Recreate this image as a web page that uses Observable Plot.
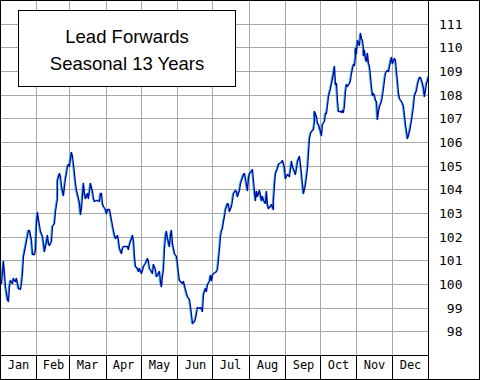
<!DOCTYPE html>
<html>
<head>
<meta charset="utf-8">
<script src="https://cdn.jsdelivr.net/npm/d3@7"></script>
<script src="https://cdn.jsdelivr.net/npm/@observablehq/plot@0.6"></script>
<style>
  html, body { margin: 0; padding: 0; background: #fff; }
  #wrap { position: relative; width: 480px; height: 380px; overflow: hidden; }
  #wrap svg { display: block; }
  #border { position: absolute; left: 0; top: 0; width: 480px; height: 380px; box-sizing: border-box; border: 1px solid #000; pointer-events: none; }
  #title { position: absolute; left: 18px; top: 10px; width: 218px; height: 77px; box-sizing: border-box;
           border: 1px solid #000; background: #fff; text-align: center;
           font-family: "Liberation Sans", Arial, sans-serif; font-size: 18.5px; line-height: 27px; padding-top: 12px; color: #000; }
</style>
</head>
<body>
<div id="wrap">
  <div id="chart"></div>
  <div id="title">Lead Forwards<br>Seasonal 13 Years</div>
  <div id="border"></div>
</div>
<script>
const monthNames = ["Jan","Feb","Mar","Apr","May","Jun","Jul","Aug","Sep","Oct","Nov","Dec"];
const monthStarts = [0,31,59,90,120,151,181,212,243,273,304,334,365];
const yTicks = [98,99,100,101,102,103,104,105,106,107,108,109,110,111];

const day = [
0.85,2.27,3.41,4.26,5.69,6.54,7.67,8.53,9.95,10.8,11.94,12.79,13.64,14.78,15.63,17.06,17.91,18.76,19.9,21.32,
22.74,24.16,25.01,26.15,27.0,29.0,29.85,30.7,31.84,32.97,34.11,35.53,36.95,37.81,38.94,39.8,41.22,42.07,43.21,44.63,
46.05,47.19,48.32,48.89,50.03,51.17,52.3,53.44,54.29,55.43,56.28,57.42,58.27,59.13,59.69,60.26,61.11,61.97,63.1,64.24,
65.09,66.23,67.08,67.94,69.07,69.93,70.78,71.63,72.77,73.9,75.04,76.18,77.03,78.17,79.31,80.44,81.86,83.0,84.14,84.99,
86.13,86.98,88.12,89.26,90.39,91.53,92.95,94.09,95.22,96.36,97.21,98.35,99.49,100.63,101.76,102.9,104.04,105.17,106.6,108.02,
109.15,110.29,111.43,112.28,113.13,113.99,115.12,116.54,117.68,118.82,119.95,121.09,122.23,123.37,
125.08,126.21,127.35,128.49,129.62,130.76,131.9,133.03,134.17,135.31,136.45,137.01,137.87,138.72,139.86,140.71,141.56,142.7,143.84,144.69,
145.54,146.39,147.53,148.67,149.81,150.66,151.8,152.65,153.79,154.92,156.34,157.48,158.62,159.75,160.89,162.03,163.17,164.02,165.15,166.01,
167.14,168.28,169.42,170.56,171.69,172.55,173.4,174.54,175.67,176.81,177.95,178.8,179.94,180.79,181.93,183.06,184.2,185.34,186.47,187.33,
188.18,189.32,190.17,191.02,191.88,192.73,193.58,194.44,195.57,196.71,197.84,198.98,200.12,201.26,202.39,203.53,204.67,205.8,206.94,208.08,
209.22,210.35,211.49,212.63,213.76,214.9,215.76,216.61,217.46,218.6,219.45,220.3,221.16,222.29,223.43,224.57,225.7,226.84,227.69,228.83,
230.25,231.39,232.52,233.09,233.94,234.8,235.93,237.07,238.21,239.35,240.48,241.34,242.19,243.04,243.9,245.03,246.17,247.31,
248.17,249.3,250.44,251.58,252.43,253.57,254.7,255.56,256.69,257.83,258.68,259.82,260.67,261.81,262.66,263.23,264.37,265.51,266.64,267.5,
268.06,269.2,270.34,271.48,272.61,273.75,274.89,276.02,276.88,278.01,278.87,280.0,281.14,282.28,283.41,284.27,285.12,285.97,286.83,287.68,
288.53,289.67,290.8,291.94,292.8,293.65,294.22,295.07,296.21,297.34,298.2,299.33,300.19,301.04,301.89,302.46,303.03,303.6,304.17,305.02,
305.87,306.72,307.58,308.43,309.28,309.85,310.7,311.56,312.41,313.26,314.12,314.97,315.82,316.67,317.53,318.38,319.23,320.08,320.94,321.79,
322.64,323.5,324.63,325.49,326.34,327.47,328.33,329.18,330.03,330.89,331.74,332.88,333.73,334.58,335.72,336.86,337.99,338.84,339.7,340.55,
341.69,342.54,343.68,344.53,345.38,346.52,347.37,348.22,349.08,349.93,350.78,351.64,352.49,353.34,354.48,355.33,356.18,357.04,358.17,359.03,
359.88,360.73,361.59,362.44,363.28,364.14,364.95
];
const value = [
100.05,100.96,100.47,99.91,99.35,99.28,99.91,100.19,100.05,100.26,100.19,100.12,100.26,100.05,99.84,99.80,100.05,100.47,101.18,101.60,
102.09,102.30,102.30,101.88,101.25,101.25,101.46,102.58,103.03,102.51,102.23,102.02,101.74,101.39,101.81,102.09,101.74,101.63,101.81,102.44,
102.58,103.07,103.64,104.41,104.69,104.55,104.13,103.78,104.13,104.48,104.69,104.97,105.05,104.97,105.33,105.57,105.40,105.05,104.69,104.27,
103.99,103.64,103.43,102.94,103.22,103.78,104.27,103.85,103.64,103.85,103.64,103.92,104.27,103.92,103.64,103.50,103.57,103.57,103.50,103.85,
103.85,103.43,103.29,103.15,103.00,103.15,103.15,102.94,102.51,102.30,102.09,101.95,102.09,101.88,101.53,101.32,101.53,101.60,101.60,101.60,
101.46,101.67,101.95,102.05,101.88,101.18,100.76,100.69,100.54,100.69,100.47,100.61,100.76,100.90,
101.11,100.97,100.69,100.54,100.47,100.83,100.62,100.33,100.40,100.54,100.12,99.91,100.33,100.62,101.53,102.02,102.23,101.95,101.60,102.09,
102.30,101.74,101.53,101.32,101.18,100.90,100.47,100.19,100.12,100.05,100.12,99.77,99.63,99.49,99.35,99.07,98.72,98.36,98.43,98.57,
98.79,99.04,99.00,99.04,99.00,98.86,99.56,99.84,99.70,99.98,100.12,100.40,100.19,100.40,100.47,100.50,100.54,100.62,101.46,102.02,
102.30,102.37,102.66,102.87,103.15,103.29,103.43,103.36,103.08,103.29,103.57,103.85,103.99,103.92,103.71,103.99,104.27,104.41,104.63,104.70,
104.49,103.99,104.49,104.70,104.77,104.84,104.41,103.92,103.57,103.92,103.71,103.85,103.99,103.57,103.71,103.57,103.43,103.92,103.36,103.22,
103.29,103.36,103.15,103.57,104.20,104.70,104.91,105.05,105.12,105.15,105.23,105.12,104.91,104.49,104.56,104.63,104.56,104.85,
105.19,104.98,104.77,104.63,104.91,105.19,105.40,105.05,104.70,104.21,103.85,104.21,104.56,104.91,105.54,106.17,106.38,106.48,106.53,106.88,
107.30,107.09,106.81,106.74,106.46,106.31,106.74,106.88,107.23,107.23,107.58,107.93,108.29,108.50,108.71,108.92,109.20,108.43,108.50,107.79,
107.30,107.33,107.27,107.37,107.27,107.58,108.14,108.43,108.36,108.50,108.64,108.92,109.13,109.30,109.27,109.62,109.97,109.76,110.33,110.18,
110.11,110.61,110.40,110.33,109.97,109.69,109.90,109.55,109.41,109.76,109.34,109.20,108.78,108.36,108.00,108.07,108.00,107.79,107.72,106.98,
107.30,107.51,107.72,108.00,108.29,108.64,108.92,108.99,109.06,108.99,109.20,109.41,109.58,109.34,109.55,109.48,108.99,108.57,108.07,107.86,
107.75,107.65,107.51,107.16,106.74,106.46,106.17,106.31,106.46,106.67,106.95,107.23,107.51,108.00,108.21,108.43,108.64,108.74,108.74,108.64,
108.50,108.29,107.93,108.21,108.50,108.64,108.78
];

const series = day.map((d, i) => ({day: d, value: value[i]}));
const months = monthNames.map((name, i) => ({name, mid: (monthStarts[i] + monthStarts[i + 1]) / 2}));

const chart = Plot.plot({
  width: 480,
  height: 380,
  marginLeft: 0,
  marginRight: 52,
  marginTop: 0,
  marginBottom: 25,
  style: {background: "#fff", color: "#000", fontFamily: "'DejaVu Sans Mono', monospace"},
  x: {domain: [0, 365], axis: null, round: true},
  y: {domain: [97, 112], axis: null, round: true},
  marks: [
    Plot.ruleY(yTicks, {stroke: "#a8a8a8", strokeWidth: 1}),
    Plot.ruleX(monthStarts.slice(1, -1), {stroke: "#a8a8a8", strokeWidth: 1}),
    Plot.line(series, {x: "day", y: "value", stroke: "#10c0d0", strokeWidth: 1, dx: -1}),
    Plot.line(series, {x: "day", y: "value", stroke: "#0000a8", strokeWidth: 1.3}),
    Plot.frame({stroke: "#000"}),
    Plot.axisX(monthStarts, {tickSize: 24, tickFormat: () => "", stroke: "#000"}),
    Plot.text(months, {x: "mid", text: "name", frameAnchor: "bottom", dy: 13, fontSize: 12, fill: "#000"}),
    Plot.text(yTicks, {y: d => d, text: d => String(d), frameAnchor: "right", textAnchor: "end", dx: 34, fontSize: 13, fill: "#000"})
  ]
});
document.getElementById("chart").appendChild(chart);
</script>
</body>
</html>
